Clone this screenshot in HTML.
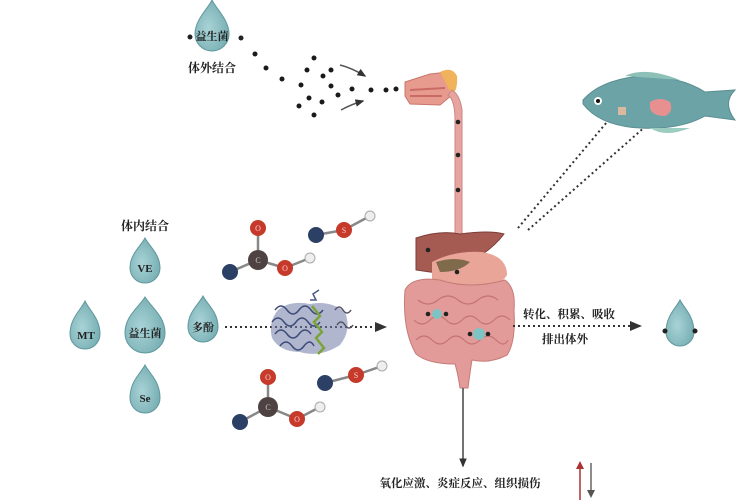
<!DOCTYPE html>
<html><head><meta charset="utf-8"><style>
html,body{margin:0;padding:0;background:#fff;width:750px;height:500px;overflow:hidden}
svg{display:block}
text{font-family:"Liberation Serif","Noto Serif CJK SC","Noto Sans CJK SC",serif;fill:#222}
</style></head><body>
<svg width="750" height="500" viewBox="0 0 750 500" xmlns="http://www.w3.org/2000/svg">
<defs>
<radialGradient id="dg" cx="0.4" cy="0.55" r="0.7"><stop offset="0" stop-color="#a9d3d6"/><stop offset="1" stop-color="#6fa9ae"/></radialGradient>
<marker id="ah" markerWidth="7" markerHeight="7" refX="5" refY="3.5" orient="auto"><path d="M0,1 L6,3.5 L0,6 Z" fill="#333"/></marker>
</defs>
<g fill="url(#dg)" stroke="#5f979c" stroke-width="1">
<path d="M212,0 C217,10 229,20 229,34 A17,17 0 1 1 195,34 C195,20 207,10 212,0 Z"/>
<path d="M145,238 C149,246 160,254 160,268 A15,15 0 1 1 130,268 C130,254 141,246 145,238 Z"/>
<path d="M85,301 C89,310 100,318 100,334 A15,15 0 1 1 70,334 C70,318 81,310 85,301 Z"/>
<path d="M145,297 C151,307 165,316 165,333 A20,20 0 1 1 125,333 C125,316 139,307 145,297 Z"/>
<path d="M203,296 C207,304 218,312 218,327 A15,15 0 1 1 188,327 C188,312 199,304 203,296 Z"/>
<path d="M145,365 C149,373 160,381 160,398 A15,15 0 1 1 130,398 C130,381 141,373 145,365 Z"/>
<path d="M680,300 C684,308 694,316 694,332 A14,14 0 1 1 666,332 C666,316 676,308 680,300 Z"/>
</g>
<g fill="#222"><circle cx="190" cy="37" r="2.5"/><circle cx="241" cy="38" r="2.5"/><circle cx="665" cy="331" r="2.5"/><circle cx="695" cy="331" r="2.5"/></g>
<g font-size="11" text-anchor="middle" font-weight="bold">
<text x="212" y="40">益生菌</text>
<text x="212" y="72" font-size="12">体外结合</text>
<text x="145" y="230" font-size="12">体内结合</text>
<text x="145" y="272">VE</text>
<text x="86" y="339">MT</text>
<text x="145" y="337">益生菌</text>
<text x="203" y="331">多酚</text>
<text x="145" y="402">Se</text>
</g>
<g fill="#1a1a1a">
<circle cx="255" cy="54" r="2.5"/><circle cx="266" cy="68" r="2.5"/><circle cx="282" cy="79" r="2.5"/><circle cx="301" cy="85" r="2.5"/><circle cx="314" cy="58" r="2.5"/><circle cx="307" cy="70" r="2.5"/><circle cx="323" cy="76" r="2.5"/><circle cx="331" cy="70" r="2.5"/><circle cx="331" cy="86" r="2.5"/><circle cx="309" cy="98" r="2.5"/><circle cx="299" cy="106" r="2.5"/><circle cx="322" cy="102" r="2.5"/><circle cx="314" cy="115" r="2.5"/><circle cx="338" cy="95" r="2.5"/><circle cx="352" cy="89" r="2.5"/><circle cx="371" cy="90" r="2.5"/><circle cx="386" cy="90" r="2.5"/><circle cx="396" cy="89" r="2.5"/>
</g>
<path d="M340,65 Q352,68 365,76" stroke="#555" stroke-width="1.5" fill="none" marker-end="url(#ah)"/>
<path d="M341,110 Q352,104 363,101" stroke="#555" stroke-width="1.5" fill="none" marker-end="url(#ah)"/>
<path d="M405,82 L430,74 L448,72 L455,80 L452,95 L440,105 L410,104 L405,96 Z" fill="#e79a8e" stroke="#c7766a" stroke-width="1"/>
<path d="M440,72 Q452,66 457,76 Q458,90 452,95 Z" fill="#f0b25a"/>
<path d="M410,90 L445,88 M410,96 L442,96" stroke="#c96a66" stroke-width="2"/>
<path d="M448,95 Q455,100 455,120 L455,232 Q455,240 460,248 L466,248 Q462,238 462,230 L462,110 Q460,95 452,90 Z" fill="#e8a5a0" stroke="#c98582" stroke-width="1"/>
<g fill="#222"><circle cx="458" cy="122" r="2.3"/><circle cx="458" cy="155" r="2.3"/><circle cx="458" cy="190" r="2.3"/></g>
<path d="M416,238 Q440,230 460,234 Q490,230 504,234 Q492,250 470,262 Q450,275 430,272 L416,270 Z" fill="#a55a52" stroke="#7d3e38" stroke-width="1"/>
<path d="M432,262 Q455,250 482,252 Q507,256 507,275 Q498,290 470,292 Q445,292 432,282 Z" fill="#e9a597"/>
<path d="M436,262 Q455,256 470,262 Q460,272 440,272 Z" fill="#7f6a4c"/>
<circle cx="428" cy="250" r="2.3" fill="#222"/><circle cx="457" cy="272" r="2.3" fill="#222"/>
<path d="M405,290 Q412,276 440,280 Q470,290 505,280 Q516,288 514,310 Q516,342 507,355 Q490,364 472,360 Q470,372 468,388 L460,388 Q458,374 455,364 Q428,364 416,354 Q402,330 405,290 Z" fill="#e29b98" stroke="#c57c79" stroke-width="1"/>
<g fill="none" stroke="#c27473" stroke-width="1.2">
<path d="M418,300 q10,8 20,0 t20,0 t20,0 t20,0"/>
<path d="M414,320 q8,8 16,0 t16,0 t16,0 t16,0 t16,0 t16,0"/>
<path d="M416,340 q8,-8 16,0 t16,0 t16,0 t16,0 t16,0 t12,0"/>
</g>
<g><circle cx="437" cy="314" r="5" fill="#7fc4c4"/><circle cx="428" cy="314" r="2.3" fill="#222"/><circle cx="446" cy="314" r="2.3" fill="#222"/>
<circle cx="479" cy="334" r="6" fill="#7fc4c4"/><circle cx="470" cy="334" r="2.3" fill="#222"/><circle cx="488" cy="334" r="2.3" fill="#222"/></g>
<line x1="463" y1="388" x2="463" y2="466" stroke="#444" stroke-width="1.5" marker-end="url(#ah)"/>
<text x="460" y="487" font-size="11.5" text-anchor="middle" font-weight="bold">氧化应激、炎症反应、组织损伤</text>
<line x1="580" y1="500" x2="580" y2="466" stroke="#a33" stroke-width="1.5"/><path d="M576,469 L580,461 L584,469 Z" fill="#a33"/>
<line x1="591" y1="463" x2="591" y2="492" stroke="#666" stroke-width="1.5"/><path d="M587,490 L591,498 L595,490 Z" fill="#555"/>
<line x1="513" y1="326" x2="640" y2="326" stroke="#333" stroke-width="2" stroke-dasharray="2,3" marker-end="url(#ah)"/>
<text x="569" y="318" font-size="11.5" text-anchor="middle" font-weight="bold">转化、积累、吸收</text>
<text x="565" y="343" font-size="11.5" text-anchor="middle" font-weight="bold">排出体外</text>
<line x1="225" y1="327" x2="385" y2="327" stroke="#333" stroke-width="2" stroke-dasharray="2,3" marker-end="url(#ah)"/>
<!-- protein -->
<path d="M278,310 Q290,300 310,304 Q330,300 345,312 Q352,330 340,345 Q320,358 300,352 Q280,352 272,338 Q268,322 278,310 Z" fill="#6d7aa6" opacity="0.55"/>
<g fill="none" stroke-width="1.5">
<path d="M275,310 q6,-8 12,0 t12,0 t12,0 t12,0 M272,322 q6,-8 12,0 t12,0 t12,0 t12,0 M275,334 q6,-8 12,0 t12,0 t12,0 M280,346 q6,-8 12,0 t12,0 t10,0" stroke="#3e4b78"/>
<path d="M310,300 l6,0 l-3,-6 l6,-4" stroke="#4b5a86"/>
<path d="M312,306 l8,10 l-6,6 l8,10 l-6,6 l8,10 l-6,6" stroke="#7aa339" stroke-width="2.5"/>
<path d="M335,310 q4,-6 8,0 t8,0 M337,325 q4,-6 8,0 t8,0" stroke="#556"/>
</g>
<g stroke="#888" stroke-width="2.5">
<line x1="230" y1="272" x2="258" y2="260"/><line x1="258" y1="260" x2="258" y2="230"/><line x1="258" y1="260" x2="285" y2="268"/><line x1="285" y1="268" x2="310" y2="258"/>
<line x1="316" y1="235" x2="344" y2="230"/><line x1="344" y1="230" x2="370" y2="216"/>
<line x1="240" y1="422" x2="268" y2="407"/><line x1="268" y1="407" x2="268" y2="378"/><line x1="268" y1="407" x2="297" y2="419"/><line x1="297" y1="419" x2="320" y2="407"/>
<line x1="325" y1="383" x2="356" y2="375"/><line x1="356" y1="375" x2="382" y2="366"/>
</g>
<g font-size="8" text-anchor="middle">
<circle cx="230" cy="272" r="8" fill="#2c4065"/><circle cx="258" cy="260" r="10" fill="#4e4242"/><circle cx="258" cy="228" r="8" fill="#c53a2a"/><circle cx="285" cy="268" r="8" fill="#c53a2a"/><circle cx="310" cy="258" r="5" fill="#eee" stroke="#aaa"/>
<circle cx="316" cy="235" r="8" fill="#2c4065"/><circle cx="344" cy="230" r="8" fill="#c53a2a"/><circle cx="370" cy="216" r="5" fill="#eee" stroke="#aaa"/>
<circle cx="240" cy="422" r="8" fill="#2c4065"/><circle cx="268" cy="407" r="10" fill="#4e4242"/><circle cx="268" cy="377" r="8" fill="#c53a2a"/><circle cx="297" cy="419" r="8" fill="#c53a2a"/><circle cx="320" cy="407" r="5" fill="#eee" stroke="#aaa"/>
<circle cx="325" cy="383" r="8" fill="#2c4065"/><circle cx="356" cy="375" r="8" fill="#c53a2a"/><circle cx="382" cy="366" r="5" fill="#eee" stroke="#aaa"/>
<text x="258" y="263" style="fill:#ccc">C</text><text x="258" y="231" style="fill:#fcc">O</text><text x="285" y="271" style="fill:#fcc">O</text><text x="344" y="233" style="fill:#fcc">S</text>
<text x="268" y="410" style="fill:#ccc">C</text><text x="268" y="380" style="fill:#fcc">O</text><text x="297" y="422" style="fill:#fcc">O</text><text x="356" y="378" style="fill:#fcc">S</text>
</g>
<g stroke="#333" stroke-width="2" stroke-dasharray="2,3" fill="none">
<line x1="518" y1="228" x2="607" y2="122"/><line x1="528" y1="230" x2="655" y2="118"/>
</g>
<path d="M583,100 Q600,80 640,76 Q680,76 705,92 L735,90 Q722,103 735,120 L705,116 Q680,130 640,128 Q600,126 583,104 Z" fill="#6ba3a6" stroke="#5a8e92"/>
<path d="M625,76 Q645,66 680,80 Z" fill="#8dc0b6"/>
<path d="M650,128 Q665,138 690,128 Z" fill="#9ccdbf"/>
<path d="M650,102 Q660,96 670,102 Q674,112 665,116 Q652,116 650,108 Z" fill="#e89090"/>
<rect x="618" y="107" width="8" height="8" fill="#d9b9a0"/>
<circle cx="598" cy="101" r="4" fill="#fff"/><circle cx="598" cy="101" r="2" fill="#111"/>
</svg>
</body></html>
